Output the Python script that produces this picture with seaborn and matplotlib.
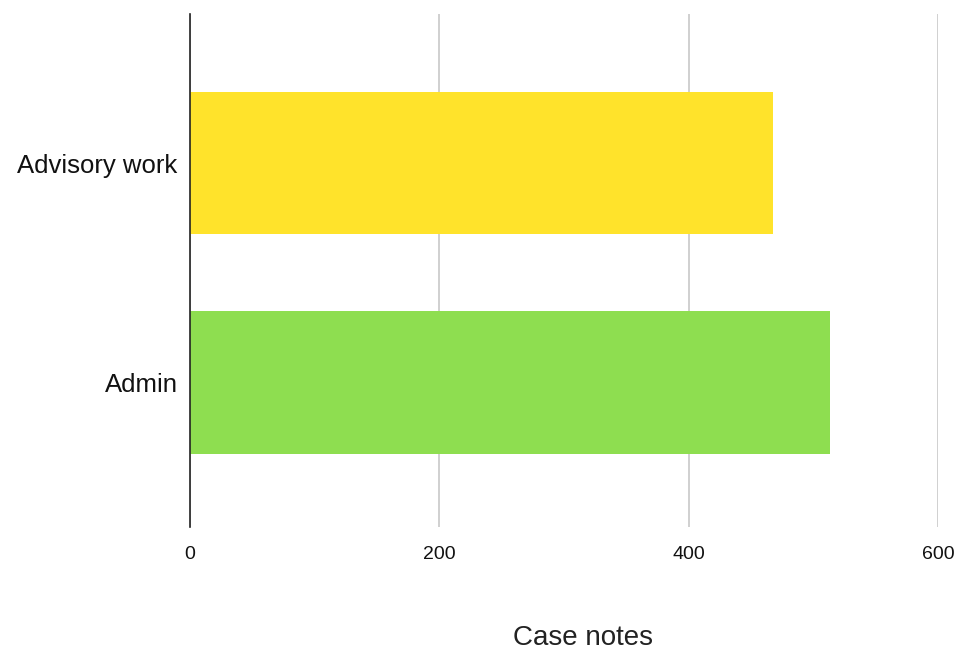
import matplotlib
matplotlib.use("Agg")
import matplotlib.pyplot as plt
import seaborn as sns
import pandas as pd

categories = ["Advisory work", "Admin"]
case_notes = [468, 513]
bar_colors = ["#FFE32B", "#8EDE50"]
x_ticks = [0, 200, 400, 600]

sns.set_theme(style="white")
plt.rcParams["font.family"] = ["Liberation Sans", "DejaVu Sans"]

df = pd.DataFrame({"category": categories, "value": case_notes})

fig = plt.figure(figsize=(9.59, 6.51), dpi=100)
ax = fig.add_axes([190 / 959, 1 - 527 / 651, (938 - 190) / 959, (527 - 14) / 651])

sns.barplot(data=df, x="value", y="category", hue="category",
            palette=bar_colors, saturation=1, width=0.65, legend=False, ax=ax,
            edgecolor="none", zorder=3)

ax.set_xlim(0, 600)
ax.set_ylim(1.66, -0.68)
ax.set_xticks(x_ticks)
ax.set_xticklabels([str(t) for t in x_ticks], fontsize=14, color="#111111")
ax.grid(axis="x", color="#c8c8c8", linewidth=1.2, zorder=0)
ax.grid(axis="y", visible=False)
for side in ["top", "right", "bottom"]:
    ax.spines[side].set_visible(False)
ax.spines["left"].set_color("#222222")
ax.spines["left"].set_linewidth(1.2)
ax.spines["left"].set_zorder(4)
ax.tick_params(axis="x", length=0, pad=14)
ax.tick_params(axis="y", length=0, pad=9, labelsize=18.5)
ax.set_ylabel("")
ax.set_xlabel("Case notes", fontsize=20, labelpad=44, color="#222222", x=0.525)
for lbl in ax.get_yticklabels():
    lbl.set_color("#111111")

fig.savefig("out.png", dpi=100, facecolor="white")
